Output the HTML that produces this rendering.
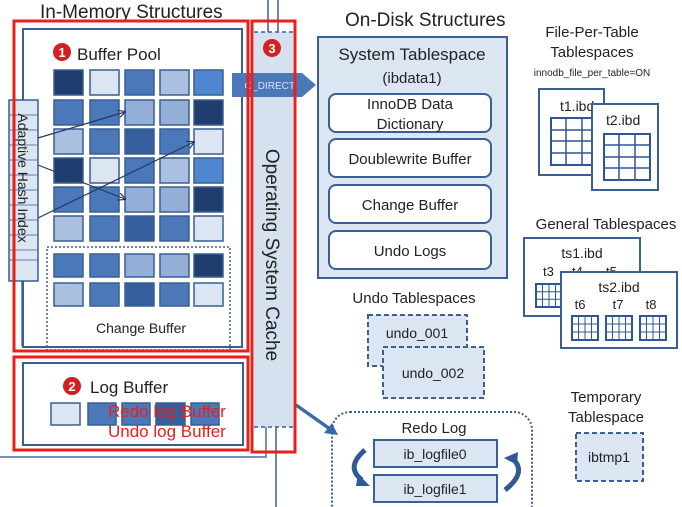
<!DOCTYPE html>
<html><head><meta charset="utf-8"><style>
html,body{margin:0;padding:0;background:#fff;}
svg{display:block;font-family:"Liberation Sans",sans-serif;}
</style></head><body>
<svg width="682" height="507" viewBox="0 0 682 507" xmlns="http://www.w3.org/2000/svg">
<defs>
<marker id="ah" markerWidth="8" markerHeight="8" refX="7" refY="4" orient="auto" markerUnits="userSpaceOnUse"><path d="M0,0 L8,4 L0,8" fill="none" stroke="#1f3864" stroke-width="1.2"/></marker>
</defs>

<path d="M0,457 H266 V427" fill="none" stroke="#4a6fa5" stroke-width="1.5"/>
<line x1="22" y1="281" x2="22" y2="346" stroke="#4a6fa5" stroke-width="1.5"/>
<text x="40" y="18" font-size="19" fill="#222">In-Memory Structures</text>

<rect x="23" y="29" width="219" height="318" fill="#fff" stroke="#3a5f94" stroke-width="2"/>
<circle cx="62" cy="52" r="9" fill="#d42020"/><text x="62" y="57" font-size="13" fill="#fff" text-anchor="middle" font-weight="bold">1</text>
<text x="77" y="60" font-size="17" fill="#222">Buffer Pool</text>

<g stroke="#3a5f94" stroke-width="1.5">
<rect x="54" y="70" width="29" height="25" fill="#1f3d6e"/><rect x="90" y="70" width="29" height="25" fill="#dce6f2"/><rect x="125" y="70" width="29" height="25" fill="#4a78b8"/><rect x="160" y="70" width="29" height="25" fill="#a9c0e0"/><rect x="194" y="70" width="29" height="25" fill="#4f86d0"/>
<rect x="54" y="100" width="29" height="25" fill="#4a78b8"/><rect x="90" y="100" width="29" height="25" fill="#4a78b8"/><rect x="125" y="100" width="29" height="25" fill="#93afd8"/><rect x="160" y="100" width="29" height="25" fill="#93afd8"/><rect x="194" y="100" width="29" height="25" fill="#1f3d6e"/>
<rect x="54" y="129" width="29" height="25" fill="#a9c0e0"/><rect x="90" y="129" width="29" height="25" fill="#4a78b8"/><rect x="125" y="129" width="29" height="25" fill="#355f9c"/><rect x="160" y="129" width="29" height="25" fill="#4a78b8"/><rect x="194" y="129" width="29" height="25" fill="#dce6f2"/>
<rect x="54" y="158" width="29" height="25" fill="#1f3d6e"/><rect x="90" y="158" width="29" height="25" fill="#dce6f2"/><rect x="125" y="158" width="29" height="25" fill="#4a78b8"/><rect x="160" y="158" width="29" height="25" fill="#a9c0e0"/><rect x="194" y="158" width="29" height="25" fill="#4f86d0"/>
<rect x="54" y="187" width="29" height="25" fill="#4a78b8"/><rect x="90" y="187" width="29" height="25" fill="#4a78b8"/><rect x="125" y="187" width="29" height="25" fill="#93afd8"/><rect x="160" y="187" width="29" height="25" fill="#93afd8"/><rect x="194" y="187" width="29" height="25" fill="#1f3d6e"/>
<rect x="54" y="216" width="29" height="25" fill="#a9c0e0"/><rect x="90" y="216" width="29" height="25" fill="#4a78b8"/><rect x="125" y="216" width="29" height="25" fill="#355f9c"/><rect x="160" y="216" width="29" height="25" fill="#4a78b8"/><rect x="194" y="216" width="29" height="25" fill="#dce6f2"/>
<rect x="54" y="254" width="29" height="23" fill="#4a78b8"/><rect x="90" y="254" width="29" height="23" fill="#4a78b8"/><rect x="125" y="254" width="29" height="23" fill="#93afd8"/><rect x="160" y="254" width="29" height="23" fill="#93afd8"/><rect x="194" y="254" width="29" height="23" fill="#1f3d6e"/>
<rect x="54" y="283" width="29" height="23" fill="#a9c0e0"/><rect x="90" y="283" width="29" height="23" fill="#4a78b8"/><rect x="125" y="283" width="29" height="23" fill="#355f9c"/><rect x="160" y="283" width="29" height="23" fill="#4a78b8"/><rect x="194" y="283" width="29" height="23" fill="#dce6f2"/>
</g>
<rect x="47" y="247" width="183" height="103" fill="none" stroke="#3a5f94" stroke-width="1.5" stroke-dasharray="2,2"/>
<text x="141" y="333" font-size="14" fill="#222" text-anchor="middle">Change Buffer</text>

<rect x="9" y="100" width="29" height="181" fill="#dce6f2" stroke="#3a5f94" stroke-width="1.5"/>
<g stroke="#3a5f94" stroke-width="0.8">
<line x1="9" y1="115" x2="38" y2="115"/><line x1="9" y1="130" x2="38" y2="130"/><line x1="9" y1="145" x2="38" y2="145"/><line x1="9" y1="160" x2="38" y2="160"/><line x1="9" y1="175" x2="38" y2="175"/><line x1="9" y1="190" x2="38" y2="190"/><line x1="9" y1="205" x2="38" y2="205"/><line x1="9" y1="220" x2="38" y2="220"/><line x1="9" y1="235" x2="38" y2="235"/><line x1="9" y1="250" x2="38" y2="250"/><line x1="9" y1="260" x2="38" y2="260"/>
</g>
<text transform="translate(18,178) rotate(90)" font-size="14" fill="#222" text-anchor="middle">Adaptive Hash Index</text>
<g stroke="#1f3864" stroke-width="1.2" fill="none" marker-end="url(#ah)">
<line x1="38" y1="138" x2="125" y2="112"/><line x1="38" y1="165" x2="125" y2="199"/><line x1="38" y1="218" x2="194" y2="142"/>
</g>

<rect x="23" y="363" width="220" height="82" fill="#fff" stroke="#3a5f94" stroke-width="2"/>
<circle cx="72" cy="386" r="9" fill="#d42020"/><text x="72" y="391" font-size="13" fill="#fff" text-anchor="middle" font-weight="bold">2</text>
<text x="90" y="393" font-size="17" fill="#222">Log Buffer</text>
<g stroke="#3a5f94" stroke-width="1.5">
<rect x="51" y="403" width="29" height="22" fill="#dce6f2"/><rect x="88" y="403" width="28" height="22" fill="#4a78b8"/><rect x="122" y="403" width="28" height="22" fill="#4a78b8"/><rect x="156" y="403" width="29" height="22" fill="#355f9c"/><rect x="191" y="403" width="28" height="22" fill="#4a78b8"/>
</g>
<text x="108" y="417" font-size="17" fill="#e8201c">Redo log Buffer</text>
<text x="108" y="437" font-size="17" fill="#e8201c">Undo log Buffer</text>

<line x1="268" y1="0" x2="268" y2="32" stroke="#3a5f94" stroke-width="1.5"/><line x1="278" y1="0" x2="278" y2="32" stroke="#3a5f94" stroke-width="1.5"/>
<line x1="276" y1="427" x2="276" y2="507" stroke="#3a5f94" stroke-width="1.5"/>
<rect x="254" y="32" width="39" height="395" fill="#d6e1f0"/>
<line x1="254" y1="32" x2="293" y2="32" stroke="#3a5f94" stroke-width="1.5" stroke-dasharray="4,3"/>
<line x1="254" y1="427" x2="293" y2="427" stroke="#3a5f94" stroke-width="1.5" stroke-dasharray="4,3"/>
<circle cx="272" cy="48" r="9" fill="#d42020"/><text x="272" y="53" font-size="13" fill="#fff" text-anchor="middle" font-weight="bold">3</text>
<path d="M232,73 H302 L316,85 L302,97 H232 Z" fill="#4a78b8"/>
<text x="295" y="89" font-size="10" fill="#dce6f2" text-anchor="end">O_DIRECT</text>
<text transform="translate(266,255) rotate(90)" font-size="19" fill="#222" text-anchor="middle">Operating System Cache</text>
<line x1="296" y1="405" x2="330" y2="429" stroke="#3a6aa8" stroke-width="3.5"/>
<path d="M338,435 L324,433 L332,423 Z" fill="#3a6aa8"/>

<g fill="none" stroke="#e8201c" stroke-width="3">
<rect x="14" y="21" width="234" height="330"/>
<rect x="14" y="357" width="234" height="93"/>
<rect x="252" y="21" width="43" height="431"/>
</g>

<text x="345" y="26" font-size="19" fill="#222">On-Disk Structures</text>
<rect x="318" y="37" width="189" height="241" fill="#dce6f2" stroke="#3a5f94" stroke-width="2"/>
<text x="412" y="60" font-size="17" fill="#222" text-anchor="middle">System Tablespace</text>
<text x="412" y="83" font-size="15" fill="#222" text-anchor="middle">(ibdata1)</text>
<g fill="#fff" stroke="#3a5f94" stroke-width="2">
<rect x="329" y="94" width="162" height="38" rx="7"/><rect x="329" y="139" width="162" height="38" rx="7"/><rect x="329" y="185" width="162" height="38" rx="7"/><rect x="329" y="231" width="162" height="38" rx="7"/>
</g>
<g font-size="15" fill="#222" text-anchor="middle">
<text x="410" y="109">InnoDB Data</text><text x="410" y="129">Dictionary</text>
<text x="410" y="164">Doublewrite Buffer</text>
<text x="410" y="210">Change Buffer</text>
<text x="410" y="256">Undo Logs</text>
</g>

<text x="414" y="303" font-size="15" fill="#222" text-anchor="middle">Undo Tablespaces</text>
<rect x="368" y="315" width="99" height="51" fill="#dce6f2" stroke="#3a5f94" stroke-width="2" stroke-dasharray="5,3"/>
<text x="417" y="338" font-size="14" fill="#222" text-anchor="middle">undo_001</text>
<rect x="383" y="347" width="101" height="51" fill="#dce6f2" stroke="#3a5f94" stroke-width="2" stroke-dasharray="5,3"/>
<text x="433" y="378" font-size="14" fill="#222" text-anchor="middle">undo_002</text>

<rect x="332" y="412" width="200" height="110" rx="18" fill="none" stroke="#3a5f94" stroke-width="2" stroke-dasharray="2,2"/>
<text x="434" y="433" font-size="15" fill="#222" text-anchor="middle">Redo Log</text>
<rect x="374" y="440" width="123" height="27" fill="#dce6f2" stroke="#3a5f94" stroke-width="2"/>
<text x="435" y="459" font-size="14" fill="#222" text-anchor="middle">ib_logfile0</text>
<rect x="374" y="475" width="123" height="27" fill="#dce6f2" stroke="#3a5f94" stroke-width="2"/>
<text x="435" y="494" font-size="14" fill="#222" text-anchor="middle">ib_logfile1</text>
<path d="M365,450 Q345,467 362,480" fill="none" stroke="#2f5a96" stroke-width="5"/>
<path d="M358,474 L370,486 L356,486 Z" fill="#2f5a96"/>
<path d="M505,490 Q528,472 512,458" fill="none" stroke="#2f5a96" stroke-width="5"/>
<path d="M504,458 L518,452 L517,465 Z" fill="#2f5a96"/>

<text x="606" y="402" font-size="15" fill="#222" text-anchor="middle">Temporary</text>
<text x="606" y="422" font-size="15" fill="#222" text-anchor="middle">Tablespace</text>
<rect x="576" y="433" width="67" height="48" fill="#dce6f2" stroke="#3a5f94" stroke-width="2" stroke-dasharray="5,3"/>
<text x="609" y="462" font-size="14" fill="#222" text-anchor="middle">ibtmp1</text>

<text x="592" y="37" font-size="15" fill="#222" text-anchor="middle">File-Per-Table</text>
<text x="592" y="57" font-size="15" fill="#222" text-anchor="middle">Tablespaces</text>
<text x="592" y="76" font-size="10" fill="#222" text-anchor="middle">innodb_file_per_table=ON</text>
<rect x="539" y="89" width="65" height="86" fill="#fff" stroke="#3a5f94" stroke-width="2"/>
<text x="560" y="111" font-size="14" fill="#222">t1.ibd</text>
<g stroke="#2f5597" fill="none">
<rect x="551" y="118" width="46" height="47" stroke-width="2" fill="#fff"/>
<path d="M566,118 V165 M582,118 V165 M551,130 H597 M551,141 H597 M551,153 H597" stroke-width="1.5"/>
</g>
<rect x="592" y="104" width="66" height="86" fill="#fff" stroke="#3a5f94" stroke-width="2"/>
<text x="606" y="125" font-size="14" fill="#222">t2.ibd</text>
<g stroke="#2f5597" fill="none">
<rect x="604" y="134" width="46" height="46" stroke-width="2" fill="#fff"/>
<path d="M619,134 V180 M635,134 V180 M604,145 H650 M604,157 H650 M604,168 H650" stroke-width="1.5"/>
</g>

<text x="606" y="229" font-size="15" fill="#222" text-anchor="middle">General Tablespaces</text>
<rect x="524" y="238" width="116" height="78" fill="#fff" stroke="#3a5f94" stroke-width="2"/>
<text x="582" y="258" font-size="14" fill="#222" text-anchor="middle">ts1.ibd</text>
<text x="543" y="276" font-size="13" fill="#222">t3</text><text x="572" y="276" font-size="13" fill="#222">t4</text><text x="606" y="276" font-size="13" fill="#222">t5</text>
<g stroke="#2f5597" fill="none">
<rect x="536" y="284" width="26" height="23" stroke-width="2"/>
<path d="M542.5,284 V307 M549,284 V307 M555.5,284 V307 M536,291.7 H562 M536,299.3 H562" stroke-width="1"/>
</g>
<rect x="561" y="272" width="116" height="76" fill="#fff" stroke="#3a5f94" stroke-width="2"/>
<text x="619" y="292" font-size="14" fill="#222" text-anchor="middle">ts2.ibd</text>
<text x="580" y="309" font-size="13" fill="#222" text-anchor="middle">t6</text><text x="618" y="309" font-size="13" fill="#222" text-anchor="middle">t7</text><text x="651" y="309" font-size="13" fill="#222" text-anchor="middle">t8</text>
<g stroke="#2f5597" fill="none">
<rect x="572" y="316" width="26" height="24" stroke-width="2"/>
<path d="M578.5,316 V340 M585,316 V340 M591.5,316 V340 M572,324 H598 M572,332 H598" stroke-width="1"/>
<rect x="606" y="316" width="26" height="24" stroke-width="2"/>
<path d="M612.5,316 V340 M619,316 V340 M625.5,316 V340 M606,324 H632 M606,332 H632" stroke-width="1"/>
<rect x="640" y="316" width="26" height="24" stroke-width="2"/>
<path d="M646.5,316 V340 M653,316 V340 M659.5,316 V340 M640,324 H666 M640,332 H666" stroke-width="1"/>
</g>
</svg>
</body></html>
